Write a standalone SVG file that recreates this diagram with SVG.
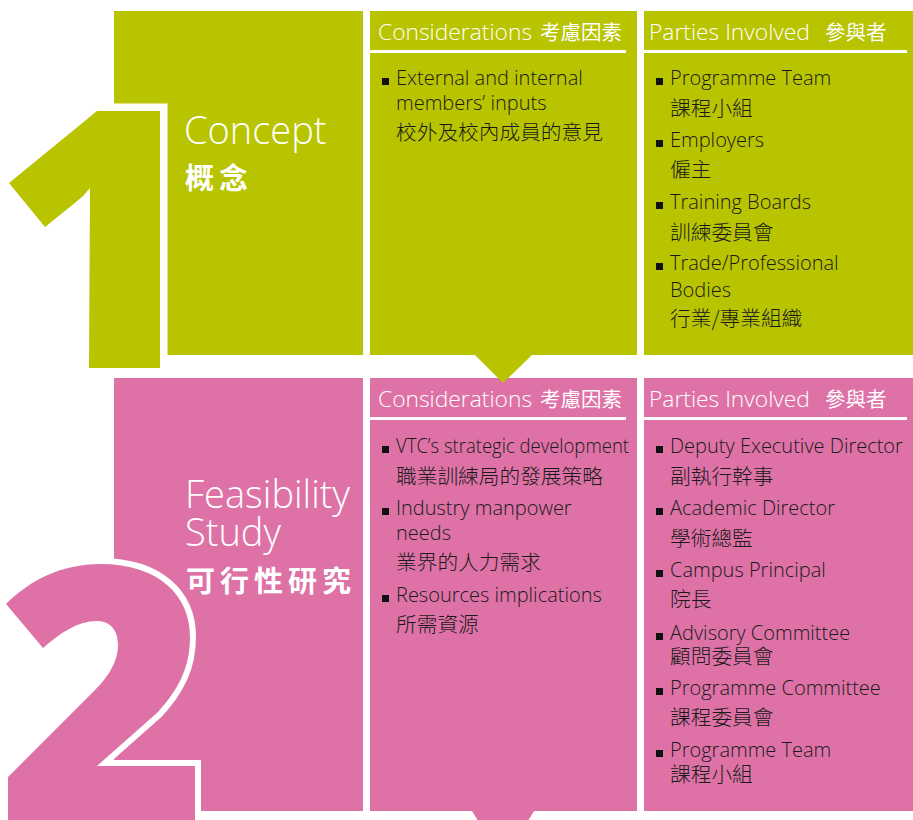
<svg xmlns="http://www.w3.org/2000/svg" width="913" height="820" viewBox="0 0 913 820">
<defs>
<style>
.g{fill:#B8C400}
.p{fill:#DE72A7}
.w{fill:#FFFFFF}
.bul{fill:#111111}
.hd{font-family:"Open Sans","Noto Sans CJK TC",sans-serif;font-size:22.8px;font-weight:300;fill:#FFFFFF}
.hdc{font-family:"Noto Sans CJK TC",sans-serif;font-size:20.5px;font-weight:400;fill:#FFFFFF}
.en{font-family:"Open Sans","Noto Sans CJK TC",sans-serif;font-size:20px;font-weight:300;fill:#1a1a1a}
.zh{font-family:"Noto Sans CJK TC",sans-serif;font-size:20.7px;font-weight:300;fill:#1a1a1a}
.tt{font-family:"Open Sans",sans-serif;font-size:38px;font-weight:300;fill:#FFFFFF}
.ttc{font-family:"Noto Sans CJK TC",sans-serif;font-size:29px;font-weight:700;fill:#FFFFFF;letter-spacing:5px}
.num1{stroke:#FFFFFF;stroke-width:15;paint-order:stroke fill}
.num2{stroke:#FFFFFF;stroke-width:12;paint-order:stroke fill}
</style>
</defs>

<g id="stage1">
  <rect class="g" x="114" y="11" width="249" height="344"/>
  <path class="g num1" d="M97,111 L160,111 L160,368 L89,368 L90,188 Q84,196 76,202 L45,227 L9,183 Z"/>
  <text class="tt" x="184" y="144">Concept</text>
  <text class="ttc" x="185" y="189">概念</text>
</g>

<g id="stage1-considerations">
  <rect class="g" x="370" y="11" width="267" height="344"/>
  <text class="hd" x="378" y="40">Considerations</text>
  <text class="hdc" x="540" y="40">考慮因素</text>
  <rect class="w" x="370" y="50" width="256" height="3"/>
  <rect class="bul" x="382" y="78" width="7" height="7"/>
  <text class="en" x="396" y="85">External and internal</text>
  <text class="en" x="396" y="110">members’ inputs</text>
  <text class="zh" x="396" y="140">校外及校內成員的意見</text>
</g>

<g id="stage1-parties">
  <rect class="g" x="644" y="11" width="269" height="344"/>
  <text class="hd" x="649" y="40">Parties Involved</text>
  <text class="hdc" x="825" y="40">參與者</text>
  <rect class="w" x="644" y="50" width="263" height="3"/>
  <rect class="bul" x="656" y="78" width="7" height="7"/>
  <text class="en" x="670" y="85">Programme Team</text>
  <text class="zh" x="670" y="116">課程小組</text>
  <rect class="bul" x="656" y="140" width="7" height="7"/>
  <text class="en" x="670" y="147">Employers</text>
  <text class="zh" x="670" y="177">僱主</text>
  <rect class="bul" x="656" y="202" width="7" height="7"/>
  <text class="en" x="670" y="209">Training Boards</text>
  <text class="zh" x="670" y="240">訓練委員會</text>
  <rect class="bul" x="656" y="263" width="7" height="7"/>
  <text class="en" x="670" y="270">Trade/Professional</text>
  <text class="en" x="670" y="297">Bodies</text>
  <text class="zh" x="670" y="326">行業/專業組織</text>
</g>

<g id="stage2">
  <rect class="p" x="114" y="378" width="249" height="433"/>
  <path class="p num2" d="M6,604 C30,580 62,564 100,564 C160,564 190,596 190,637 C190,668 178,690 158,712 L97,766 L195,766 L195,835 L8,835 L8,777 L95,690 C110,675 118,660 118,645 C118,629 109,621 97,621 C78,621 60,633 43,648 Z"/>
  <text class="tt" x="185" y="508">Feasibility</text>
  <text class="tt" x="185" y="546">Study</text>
  <text class="ttc" x="186" y="592">可行性研究</text>
</g>

<g id="stage2-considerations">
  <rect class="p" x="370" y="378" width="267" height="433"/>
  <text class="hd" x="378" y="407">Considerations</text>
  <text class="hdc" x="540" y="407">考慮因素</text>
  <rect class="w" x="370" y="417" width="256" height="3"/>
  <rect class="bul" x="382" y="446" width="7" height="7"/>
  <text class="en" x="396" y="453" textLength="233" lengthAdjust="spacingAndGlyphs">VTC’s strategic development</text>
  <text class="zh" x="396" y="484">職業訓練局的發展策略</text>
  <rect class="bul" x="382" y="508" width="7" height="7"/>
  <text class="en" x="396" y="515">Industry manpower</text>
  <text class="en" x="396" y="540">needs</text>
  <text class="zh" x="396" y="570">業界的人力需求</text>
  <rect class="bul" x="382" y="595" width="7" height="7"/>
  <text class="en" x="396" y="602">Resources implications</text>
  <text class="zh" x="396" y="632">所需資源</text>
</g>

<g id="stage2-parties">
  <rect class="p" x="644" y="378" width="269" height="433"/>
  <text class="hd" x="649" y="407">Parties Involved</text>
  <text class="hdc" x="825" y="407">參與者</text>
  <rect class="w" x="644" y="417" width="263" height="3"/>
  <rect class="bul" x="656" y="446" width="7" height="7"/>
  <text class="en" x="670" y="453">Deputy Executive Director</text>
  <text class="zh" x="670" y="484">副執行幹事</text>
  <rect class="bul" x="656" y="508" width="7" height="7"/>
  <text class="en" x="670" y="515">Academic Director</text>
  <text class="zh" x="670" y="546">學術總監</text>
  <rect class="bul" x="656" y="570" width="7" height="7"/>
  <text class="en" x="670" y="577">Campus Principal</text>
  <text class="zh" x="670" y="607">院長</text>
  <rect class="bul" x="656" y="633" width="7" height="7"/>
  <text class="en" x="670" y="640">Advisory Committee</text>
  <text class="zh" x="670" y="664">顧問委員會</text>
  <rect class="bul" x="656" y="688" width="7" height="7"/>
  <text class="en" x="670" y="695">Programme Committee</text>
  <text class="zh" x="670" y="725">課程委員會</text>
  <rect class="bul" x="656" y="750" width="7" height="7"/>
  <text class="en" x="670" y="757">Programme Team</text>
  <text class="zh" x="670" y="782">課程小組</text>
</g>

<g id="connectors">
  <polygon class="g" points="475,355 532,355 503,383"/>
  <polygon class="p" points="472,811 534,811 503,862"/>
</g>
</svg>
